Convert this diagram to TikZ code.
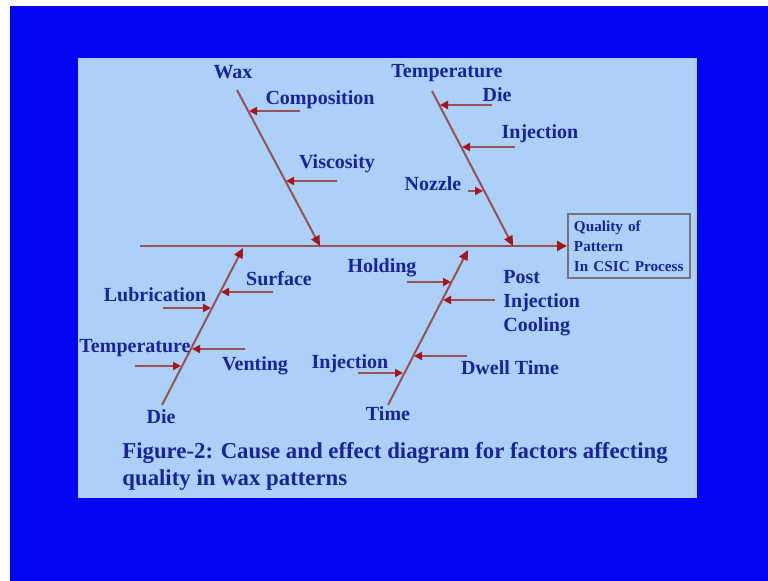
\documentclass[tikz,border=0pt]{standalone}
\usepackage{fontspec}
\setmainfont{Liberation Serif}
\usetikzlibrary{arrows.meta}
\usetikzlibrary{calc}
\definecolor{folie}{RGB}{2,6,245}
\definecolor{feld}{RGB}{172,208,247}
\definecolor{schrift}{RGB}{24,36,156}
\definecolor{ast}{RGB}{150,82,86}
\definecolor{spitze}{RGB}{165,22,28}
\definecolor{rahmen}{RGB}{118,112,128}
\begin{document}
\begin{tikzpicture}[x=0.5pt,y=-0.5pt,
	lbl/.style={text=schrift,font=\bfseries\fontsize{10}{12}\selectfont,inner sep=0pt},
	bone/.style={draw=ast,line width=1pt,-{Triangle[length=5pt,width=4.5pt,color=spitze]}},
	cause/.style={draw=ast,line width=1pt,-{Triangle[length=4pt,width=4pt,color=spitze]}}]
		\useasboundingbox (0,0) rectangle (768,581);
		\fill[white] (0,0) rectangle (768,581);
		\fill[folie] (10,6) rectangle (768,581);
		\fill[feld] (78,58) rectangle (697,498);
		% Kopf
		\node[draw=rahmen,line width=1pt,anchor=west,minimum height=32pt,inner sep=3pt,text width=55pt,align=left,text=schrift,font=\bfseries\fontsize{7.6}{10}\selectfont] (Q) at (567,246) {Quality of\\Pattern\\In CSIC Process};
		\coordinate (S0) at (140,246);
		\draw[ast,line width=1.2pt,-{Triangle[length=5pt,width=5pt,color=spitze]}] (S0) -- (Q.west);
		% Wax
		\coordinate (W0) at (237,90);
		\coordinate (W1) at (320,246);
		\draw[bone] (W0) -- (W1);
		\node[lbl] (Wax) at (233,72) {Wax};
		\coordinate (W1a) at (300,111);
		\coordinate (W1b) at (249,111);
		\draw[cause] (W1a) -- (W1b);
		\node[lbl] (Comp) at (320,100) {Composition};
		\coordinate (W2a) at (337,181);
		\coordinate (W2b) at (286,181);
		\draw[cause] (W2a) -- (W2b);
		\node[lbl] (Visc) at (337,164) {Viscosity};
		% Temperature
		\coordinate (T0) at (432,91);
		\coordinate (T1) at (513,246);
		\draw[bone] (T0) -- (T1);
		\node[lbl] (Temp) at (447,73) {Temperature};
		\coordinate (T1a) at (492,105);
		\coordinate (T1b) at (440,105);
		\draw[cause] (T1a) -- (T1b);
		\node[lbl] (TDie) at (497,95) {Die};
		\coordinate (T2a) at (515,147);
		\coordinate (T2b) at (462,147);
		\draw[cause] (T2a) -- (T2b);
		\node[lbl] (TInj) at (540,134) {Injection};
		\coordinate (T3a) at (468,191);
		\coordinate (T3b) at (483,191);
		\draw[cause] (T3a) -- (T3b);
		\node[lbl] (Nozz) at (433,184) {Nozzle};
		% Die
		\coordinate (D0) at (162,405);
		\coordinate (D1) at (243,248);
		\draw[bone] (D0) -- (D1);
		\node[lbl] (Die) at (161,417) {Die};
		\coordinate (D1a) at (273,292);
		\coordinate (D1b) at (221,292);
		\draw[cause] (D1a) -- (D1b);
		\node[lbl] (Surf) at (279,279) {Surface};
		\coordinate (D2a) at (163,308);
		\coordinate (D2b) at (211,308);
		\draw[cause] (D2a) -- (D2b);
		\node[lbl] (Lubr) at (155,295) {Lubrication};
		\coordinate (D3a) at (245,349);
		\coordinate (D3b) at (192,349);
		\draw[cause] (D3a) -- (D3b);
		\node[lbl] (Vent) at (255,366) {Venting};
		\coordinate (D4a) at (135,366);
		\coordinate (D4b) at (181,366);
		\draw[cause] (D4a) -- (D4b);
		\node[lbl] (DTemp) at (135,348) {Temperature};
		% Time
		\coordinate (M0) at (388,405);
		\coordinate (M1) at (468,250);
		\draw[bone] (M0) -- (M1);
		\node[lbl] (Time) at (388,414) {Time};
		\coordinate (M1a) at (407,282);
		\coordinate (M1b) at (451,282);
		\draw[cause] (M1a) -- (M1b);
		\node[lbl] (Hold) at (382,268) {Holding};
		\coordinate (M2a) at (495,300);
		\coordinate (M2b) at (443,300);
		\draw[cause] (M2a) -- (M2b);
		\node[lbl,anchor=west,align=left,font=\bfseries\fontsize{10}{12}\selectfont] (Post) at (503,303) {Post\\Injection\\Cooling};
		\coordinate (M3a) at (467,356);
		\coordinate (M3b) at (414,356);
		\draw[cause] (M3a) -- (M3b);
		\node[lbl] (Dwell) at (510,368) {Dwell Time};
		\coordinate (M4a) at (358,373);
		\coordinate (M4b) at (403,373);
		\draw[cause] (M4a) -- (M4b);
		\node[lbl] (MInj) at (350,364) {Injection};
		% Unterschrift
		\node[lbl,anchor=west,align=left,font=\bfseries\fontsize{11.4}{13.5}\selectfont] (Cap) at (122,466) {Figure-2: Cause and effect diagram for factors affecting\\quality in wax patterns};
\end{tikzpicture}
\end{document}
